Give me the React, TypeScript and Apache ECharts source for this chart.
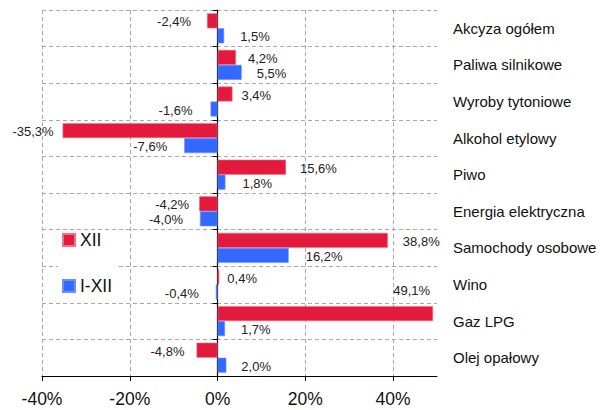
import React, { useEffect, useRef } from 'react';
import * as echarts from 'echarts';

const categories = [
  'Akcyza ogółem',
  'Paliwa silnikowe',
  'Wyroby tytoniowe',
  'Alkohol etylowy',
  'Piwo',
  'Energia elektryczna',
  'Samochody osobowe',
  'Wino',
  'Gaz LPG',
  'Olej opałowy',
];
const seriesNames = ['XII', 'I-XII'];
const xiiValues = [-2.4, 4.2, 3.4, -35.3, 15.6, -4.2, 38.8, 0.4, 49.1, -4.8];
const ytdValues = [1.5, 5.5, -1.6, -7.6, 1.8, -4.0, 16.2, -0.4, 1.7, 2.0];
const xTickValues = [-40, -20, 0, 20, 40];
const xMin = -40;
const xMax = 50;

const FONT = "'Liberation Sans', Arial, sans-serif";
const RED = '#e31a3b';
const BLUE = '#3469ff';

const fmt = (v: number) => `${v.toFixed(1).replace('.', ',')}%`;

// label gap (px) from bar end, per category
const xiiGap = [16, 12, 9, 9, 14, 10, 15, 8, 5, 12];
const ytdGap = [16, 15, 18, 17, 17, 17, 17, 17, 16, 15];

function buildData(values: number[], gaps: number[], special?: number) {
  return values.map((v, i) => {
    if (i === special) {
      return {
        value: v,
        label: { position: 'insideTopRight', distance: 5, offset: [2, -27] },
      };
    }
    return {
      value: v,
      label: { position: v >= 0 ? 'right' : 'left', distance: gaps[i], offset: [0, 1] },
    };
  });
}

export default function App() {
  const ref = useRef<HTMLDivElement>(null);
  useEffect(() => {
    if (!ref.current) return;
    const chart = echarts.init(ref.current, undefined, { renderer: 'svg' });
    const labelStyle = {
      show: true,
      formatter: (p: any) => fmt(p.value),
      fontFamily: FONT,
      fontSize: 13,
      color: '#222',
    };
    chart.setOption({
      animation: false,
      textStyle: { fontFamily: FONT },
      grid: { left: 42, top: 10, right: 172, bottom: 34, containLabel: false },
      legend: {
        orient: 'vertical',
        left: 58,
        top: 230,
        padding: [1, 4, 4, 4],
        backgroundColor: '#fff',
        itemWidth: 12,
        itemHeight: 12,
        itemGap: 28,
        icon: 'rect',
        textStyle: { fontFamily: FONT, fontSize: 17.5, lineHeight: 14, color: '#111' },
        data: seriesNames,
      },
      xAxis: {
        type: 'value',
        min: xMin,
        max: xMax,
        interval: 20,
        axisLine: { show: true, onZero: false, lineStyle: { color: '#000', width: 1 } },
        axisTick: { show: true, length: 5, lineStyle: { color: '#000' }, customValues: xTickValues },
        axisLabel: {
          customValues: xTickValues,
          formatter: (v: number) => (xTickValues.includes(v) ? `${v}%` : ''),
          fontFamily: FONT,
          fontSize: 17.5,
          color: '#111',
          margin: 14,
        },
        splitLine: {
          show: true,
          lineStyle: {
            color: ['#aaa', '#aaa', 'rgba(0,0,0,0)', '#aaa', '#aaa', 'rgba(0,0,0,0)'],
            type: [4, 3],
            width: 1,
          },
        },
      },
      yAxis: [
        {
          type: 'category',
          data: categories,
          inverse: true,
          axisLine: { show: true, onZero: true, lineStyle: { color: '#000', width: 1.2 } },
          axisTick: { show: true, length: 5, lineStyle: { color: '#000' } },
          axisLabel: { show: false },
          splitLine: { show: true, lineStyle: { color: '#aaa', type: [4, 3], width: 1 } },
        },
        {
          type: 'category',
          data: categories,
          inverse: true,
          position: 'right',
          axisLine: { show: false },
          axisTick: { show: false },
          splitLine: { show: false },
          axisLabel: {
            show: true,
            align: 'left',
            margin: 16,
            fontFamily: FONT,
            fontSize: 15,
            color: '#111',
          },
        },
      ],
      series: [
        {
          name: seriesNames[0],
          type: 'bar',
          yAxisIndex: 0,
          barWidth: 15,
          barGap: '0%',
          itemStyle: { color: RED, borderColor: '#f07088', borderWidth: 0.6 },
          label: labelStyle,
          data: buildData(xiiValues, xiiGap, 8),
        },
        {
          name: seriesNames[1],
          type: 'bar',
          yAxisIndex: 0,
          barWidth: 15,
          barGap: '0%',
          itemStyle: { color: BLUE, borderColor: '#6a90ff', borderWidth: 0.6 },
          label: labelStyle,
          data: buildData(ytdValues, ytdGap),
        },
      ],
    });
    return () => chart.dispose();
  }, []);
  return (
    <div
      ref={ref}
      style={{ position: 'fixed', left: 0, top: 0, width: 609, height: 410, background: '#fff' }}
    />
  );
}
